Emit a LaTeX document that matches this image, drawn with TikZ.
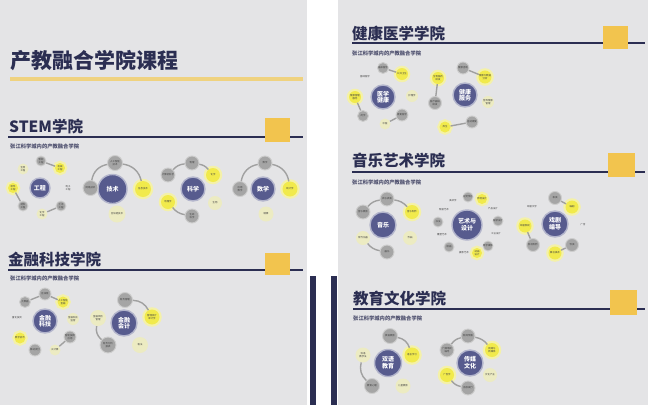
\documentclass[tikz,border=0pt]{standalone}
\usepackage{fontspec}
\setmainfont{Noto Sans CJK SC}
\definecolor{panel}{HTML}{E4E4E6}
\definecolor{navy}{HTML}{2B2E52}
\definecolor{hubc}{HTML}{575B8E}
\definecolor{satg}{HTML}{A5A5A5}
\definecolor{satgr}{HTML}{CDCDCD}
\definecolor{saty}{HTML}{F1EA4C}
\definecolor{glowy}{HTML}{F4F1A8}
\definecolor{lighty}{HTML}{ECEBC2}
\definecolor{linkc}{HTML}{A0A0A0}
\definecolor{sq}{HTML}{F2C44E}
\definecolor{gold}{HTML}{EFD27F}
\tikzset{
  bigtitle/.style={anchor=west, inner sep=0, text=navy, font=\bfseries\fontsize{21}{22}\selectfont},
  sectitle/.style={anchor=west, inner sep=0, text=navy, font=\bfseries\fontsize{15.5}{16}\selectfont},
  subt/.style={anchor=west, inner sep=0, text=navy!85, font=\bfseries\fontsize{5.3}{6}\selectfont},
  rule/.style={draw=navy, line width=1.1pt},
  sqbox/.style={fill=sq, draw=none},
  hub/.style={circle, minimum size=#1pt, inner sep=0, fill=hubc, draw=white!55!hubc, line width=1.4pt, text=white, align=center, font=\bfseries\fontsize{6}{6.6}\selectfont},
  gs/.style={circle, minimum size=#1pt, inner sep=0, fill=satg, draw=satgr, line width=0.9pt, text=black!75, align=center, font=\fontsize{2.4}{2.8}\selectfont},
  gs/.default=12,
  ys/.style={circle, minimum size=#1pt, inner sep=0, fill=saty, preaction={draw=glowy, line width=4.5pt}, text=black!75, align=center, font=\fontsize{2.4}{2.8}\selectfont},
  ys/.default=12,
  ls/.style={circle, minimum size=#1pt, inner sep=0, fill=lighty, text=black!75, align=center, font=\fontsize{2.4}{2.8}\selectfont},
  ls/.default=13,
  ts/.style={circle, minimum size=#1pt, inner sep=0, text=black!75, align=center, font=\fontsize{2.4}{2.8}\selectfont},
  ts/.default=12,
  link/.style={draw=linkc, line width=1.4pt},
}
\begin{document}
\begin{tikzpicture}[x=1pt, y=-1pt]
\useasboundingbox (0,0) rectangle (648,405);
\fill[white] (0,0) rectangle (648,405);
% panels
\fill[panel] (0,0) rectangle (307,405);
\fill[panel] (338,0) rectangle (648,405);
\fill[navy] (310,276) rectangle (316,405);
\fill[navy] (331,276) rectangle (337,405);

% ===== left panel =====
\node[bigtitle] (title) at (10,61) {产教融合学院课程};
\draw[draw=gold, line width=3.5pt] (10,79) -- (303,79);

\node[sectitle] (stem) at (9,127) {STEM学院};
\draw[rule] (8,137) -- (303,137);
\fill[sqbox] (265,118) rectangle (290,142);
\node[subt] (stemsub) at (10,146) {张江科学城内的产教融合学院};

% 工程
\node[hub=20] (e0) at (40,188) {工程};
\node[gs=10] (e1) at (41,161) {智能\\工程};
\node[ys=10] (e2) at (60,168) {机械\\工程};
\node[ts=10] (e3) at (68,188) {电子\\工程};
\node[gs=10] (e4) at (61,206) {土木\\工程};
\node[ls=11] (e5) at (42,214) {化学\\工程};
\node[gs=10] (e6) at (23,206) {材料\\工程};
\node[ys=10] (e7) at (13,188) {软件\\工程};
\node[ls=11] (e8) at (23,169) {生物\\工程};
\draw[link] (e1) -- (e2);
\draw[link] (e4) -- (e5);
\draw[link] (e6) -- (e7);

% 技术
\node[hub=29] (t0) at (112.5,189) {技术};
\node[gs=15] (t1) at (90.5,188) {网络技术};
\node[gs=15] (t2) at (115,163) {人工智能\\技术};
\node[ys=16] (t3) at (143,189) {信息技术};
\node[ls=17] (t4) at (117,214) {区块链技术};
\draw[link] (t1) to[bend left=35] (t2);
\draw[link] (t2) to[bend left=35] (t3);

% 科学
\node[hub=24] (k0) at (193,189) {科学};
\node[gs=14] (k1) at (192,163) {物理};
\node[gs=14] (k2) at (168,175) {计算机科学};
\node[ys=14] (k3) at (213,175) {化学};
\node[ls=14] (k4) at (215,203) {生物};
\node[ys=14] (k5) at (168,202) {地理学};
\node[gs=14] (k6) at (192,216) {生命\\科学};
\draw[link] (k2) to[bend left=20] (k1);
\draw[link] (k1) to[bend left=20] (k3);
\draw[link] (k5) to[bend right=20] (k6);

% 数学
\node[hub=24] (m0) at (263,189) {数学};
\node[gs=14] (m1) at (265,163) {数学};
\node[gs=15] (m2) at (240,189) {应用\\数学};
\node[ys=15] (m3) at (290,189) {统计学};
\node[ls=15] (m4) at (266,214) {精算};
\draw[link] (m2) to[bend left=35] (m1);
\draw[link] (m1) to[bend left=35] (m3);

% 金融科技学院
\node[sectitle] (fin) at (8,259.5) {金融科技学院};
\draw[rule] (8,270) -- (303,270);
\fill[sqbox] (265,253) rectangle (290,275);
\node[subt] (finsub) at (10,278) {张江科学城内的产教融合学院};

\node[hub=24] (f0) at (45,321) {金融\\科技};
\node[gs=12] (f1) at (45,294) {区块链};
\node[gs=11] (f2) at (25,302) {大数据};
\node[ys=11] (f3) at (63,302) {人工智能\\金融};
\node[ts=12] (f4) at (17,318) {量化投资};
\node[ls=12] (f5) at (73,319) {金融科技\\监管};
\node[ys=11] (f6) at (20,338) {数字货币};
\node[gs=12] (f7) at (70,337) {智能投顾\\应用};
\node[gs=12] (f8) at (35,350) {移动支付};
\node[ls=11] (f9) at (55,350) {云计算};
\draw[link] (f2) -- (f1);
\draw[link] (f1) -- (f3);
\draw[link] (f7) -- (f9);

\node[hub=26] (g0) at (124,323) {金融\\会计};
\node[gs=15] (g1) at (125,300) {财务管理};
\node[ys=15] (g2) at (152,317) {管理会计\\审计学};
\node[ls=16] (g3) at (98,318) {金融风险\\管理};
\node[gs=16] (g4) at (108,345) {财务分析\\报表};
\node[ls=16] (g5) at (140,345) {税法};
\draw[link] (g1) to[bend left=30] (g2);
\draw[link] (g3) to[bend right=30] (g4);

% ===== right panel =====
\node[sectitle] (med) at (352,34) {健康医学学院};
\draw[rule] (352,43) -- (645,43);
\fill[sqbox] (603,26) rectangle (628,49);
\node[subt] (medsub) at (352,53) {张江科学城内的产教融合学院};

\node[hub=24] (h0) at (383,97) {医学\\健康};
\node[gs=11] (h1) at (383,68) {临床医学};
\node[ys=12] (h2) at (402,74) {公共卫生};
\node[ls=12] (h3) at (412,96) {护理学};
\node[gs=12] (h4) at (402,115) {康复医学};
\node[ls=11] (h5) at (385,124) {中医};
\node[gs=11] (h6) at (363,116) {药学};
\node[ys=12] (h7) at (355,97) {健康管理\\服务};
\node[ts=12] (h8) at (365,77) {基础医学};
\draw[link] (h1) -- (h2);
\draw[link] (h4) -- (h5);
\draw[link] (h6) -- (h7);

\node[hub=24] (j0) at (465,95) {健康\\服务};
\node[gs=12] (j1) at (463,68) {健康咨询};
\node[ys=12] (j2) at (485,77) {健康大数据\\分析};
\node[ls=12] (j3) at (488,102) {营养健康\\管理};
\node[gs=12] (j4) at (472,122) {运动康复};
\node[ys=11] (j5) at (445,127) {养生};
\node[gs=13] (j6) at (435,103) {医疗器械\\研发};
\node[ys=12] (j7) at (438,78) {生物医药\\研发};
\draw[link] (j1) -- (j2);
\draw[link] (j4) -- (j5);
\draw[link] (j6) -- (j7);

\node[sectitle] (mus) at (352,160.5) {音乐艺术学院};
\draw[rule] (352,172) -- (645,172);
\fill[sqbox] (608,153) rectangle (635,177);
\node[subt] (mussub) at (352,182) {张江科学城内的产教融合学院};

\node[hub=26] (u0) at (383,225) {音乐};
\node[gs=14] (u1) at (387,199) {声乐表演};
\node[gs=14] (u2) at (363,212) {音乐教育};
\node[ys=14] (u3) at (412,212) {音乐制作};
\node[ls=14] (u4) at (410,238) {作曲};
\node[ls=14] (u5) at (363,238) {现代乐器};
\node[gs=14] (u6) at (387,252) {器乐};
\draw[link] (u2) to[bend left=20] (u1);
\draw[link] (u1) to[bend left=20] (u3);
\draw[link] (u5) to[bend right=20] (u6);

\node[hub=30] (a0) at (467,225) {艺术与\\设计};
\node[gs=10] (a1) at (468,197) {视觉传达};
\node[ys=10] (a2) at (482,199) {环境设计};
\node[ts=10] (a3) at (493,209) {产品设计};
\node[gs=10] (a4) at (498,221) {服装设计};
\node[ts=10] (a5) at (496,234) {工业设计};
\node[gs=10] (a6) at (488,246) {数字媒体};
\node[ys=10] (a7) at (477,253) {动画\\设计};
\node[ts=10] (a8) at (464,253) {摄影艺术};
\node[gs=10] (a9) at (449,247) {绘画};
\node[ts=10] (a10) at (442,235) {雕塑艺术};
\node[gs=10] (a11) at (438,222) {书法};
\node[ts=10] (a12) at (444,210) {陶瓷艺术};
\node[ts=10] (a13) at (453,201) {美术学};

\node[hub=26] (p0) at (555,224) {戏剧\\编导};
\node[gs=13] (p1) at (555,198) {表演};
\node[ys=13] (p2) at (572,207) {编剧};
\node[ts=12] (p3) at (583,225) {广告};
\node[gs=13] (p4) at (572,245) {导演};
\node[ys=13] (p5) at (555,253) {舞台美术};
\node[gs=13] (p6) at (533,245) {影视制作};
\node[ys=13] (p7) at (525,226) {戏剧影视};
\node[ts=12] (p8) at (532,207) {戏剧文学};
\draw[link] (p1) -- (p2);
\draw[link] (p7) -- (p6);
\draw[link] (p4) -- (p5);

\node[sectitle] (edu) at (353,298.5) {教育文化学院};
\draw[rule] (353,309) -- (645,309);
\fill[sqbox] (610,290) rectangle (637,315);
\node[subt] (edusub) at (353,318) {张江科学城内的产教融合学院};

\node[hub=27] (b0) at (388,363) {双语\\教育};
\node[gs=15] (b1) at (390,336) {英语教育};
\node[ys=15] (b2) at (412,355) {语言学习};
\node[ls=15] (b3) at (363,355) {双语\\教学法};
\node[gs=15] (b4) at (372,386) {教育心理};
\node[ls=15] (b5) at (403,386) {儿童教育};
\draw[link] (b1) to[bend left=30] (b2);
\draw[link] (b3) to[bend right=30] (b4);

\node[hub=26] (c0) at (470,363) {传媒\\文化};
\node[gs=14] (c1) at (468,336) {新闻传播};
\node[gs=14] (c2) at (447,350) {广播电视\\编导};
\node[ys=14] (c3) at (492,350) {网络与\\新媒体};
\node[ls=14] (c4) at (490,375) {文化产业};
\node[gs=14] (c5) at (468,388) {出版发行};
\node[ys=14] (c6) at (447,375) {广告学};
\draw[link] (c2) to[bend left=20] (c1);
\draw[link] (c1) to[bend left=20] (c3);
\draw[link] (c6) to[bend right=20] (c5);
\end{tikzpicture}
\end{document}
